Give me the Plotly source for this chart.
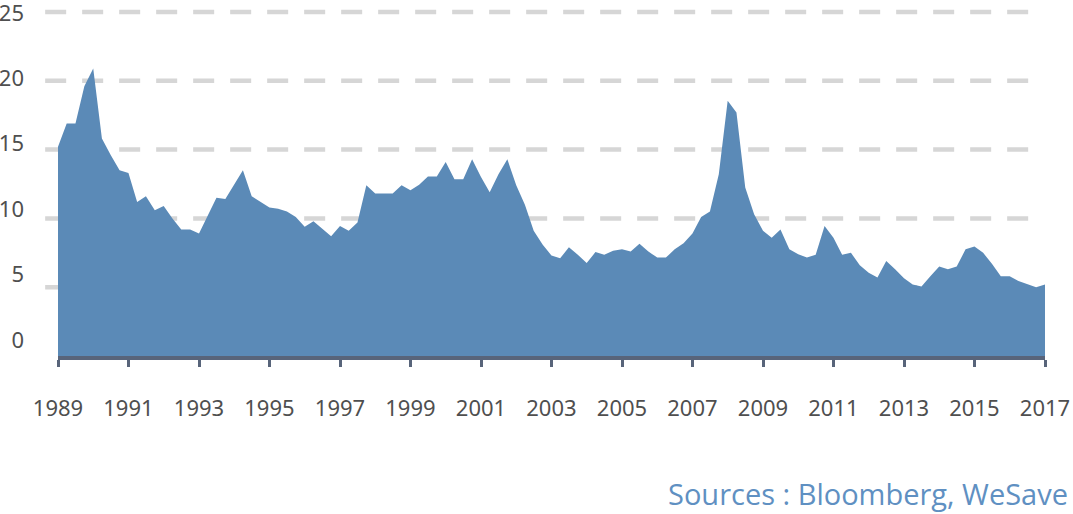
import pandas as pd
import plotly.graph_objects as go

# quarterly series, 1989 Q1 -> 2017 Q1
start_date = "1989-01-01"
values = [
    15.2, 16.9, 16.9, 19.6, 20.9, 15.8, 14.6, 13.5, 13.3, 11.2,
    11.6, 10.6, 10.9, 10.0, 9.2, 9.2, 8.9, 10.2, 11.5, 11.4,
    12.5, 13.5, 11.6, 11.2, 10.8, 10.7, 10.5, 10.1, 9.4, 9.8,
    9.25, 8.7, 9.45, 9.1, 9.7, 12.4, 11.8, 11.8, 11.8, 12.4,
    12.05, 12.45, 13.05, 13.05, 14.1, 12.85, 12.85, 14.3, 13.0, 11.9,
    13.2, 14.3, 12.4, 11.0, 9.1, 8.1, 7.3, 7.1, 7.9, 7.35,
    6.75, 7.55, 7.35, 7.65, 7.75, 7.6, 8.15, 7.6, 7.15, 7.15,
    7.75, 8.2, 8.9, 10.1, 10.5, 13.2, 18.55, 17.7, 12.25, 10.3,
    9.1, 8.6, 9.2, 7.75, 7.4, 7.15, 7.35, 9.45, 8.6, 7.35,
    7.5, 6.6, 6.05, 5.7, 6.9, 6.3, 5.65, 5.2, 5.05, 5.8,
    6.5, 6.3, 6.5, 7.75, 7.95, 7.5, 6.7, 5.8, 5.8, 5.45,
    5.25, 5.0, 5.2,
]
dates = pd.date_range(start_date, periods=len(values), freq="QS")

year_ticks = list(range(1989, 2018, 2))
y_ticks = [0, 5, 10, 15, 20, 25]
grid_levels = [5, 10, 15, 20, 25]
source_text = "Sources : Bloomberg, WeSave"

fill_color = "#5b8ab7"
axis_color = "#58647a"
label_color = "#4f4f4f"

fig = go.Figure()

fig.add_trace(go.Scatter(
    x=dates,
    y=values,
    mode="lines",
    line=dict(width=0, color=fill_color),
    fill="tozeroy",
    fillcolor=fill_color,
    hoverinfo="x+y",
))

# invisible trace so the label axis gets drawn
fig.add_trace(go.Scatter(x=[dates[0]], y=[0], yaxis="y2", mode="markers",
                         marker=dict(opacity=0), hoverinfo="skip"))

# dashed grid, drawn a bit wider than the plot area like the original
for lvl in grid_levels:
    fig.add_shape(type="line", xref="paper", yref="y",
                  x0=-0.013, x1=0.99, y0=lvl, y1=lvl,
                  line=dict(color="#d6d6d6", width=4.5, dash="21px,16px"),
                  layer="below")

fig.update_layout(
    width=1073,
    height=514,
    margin=dict(l=58, r=28, t=0, b=158, autoexpand=False),
    paper_bgcolor="white",
    plot_bgcolor="white",
    showlegend=False,
    font=dict(family="Noto Sans", color=label_color, size=22),
    xaxis=dict(
        type="date",
        automargin=False,
        range=[dates[0], dates[-1]],
        tickvals=[pd.Timestamp(f"{y}-01-01") for y in year_ticks],
        ticktext=[str(y) for y in year_ticks],
        showgrid=False,
        zeroline=False,
        showline=True,
        linecolor=axis_color,
        linewidth=4,
        ticks="outside",
        ticklen=7,
        tickwidth=3,
        tickcolor=axis_color,
        ticklabelstandoff=23,
        tickfont=dict(size=22, color=label_color),
    ),
    yaxis=dict(
        automargin=False,
        range=[0, 25.87],
        showgrid=False,
        zeroline=False,
        showticklabels=False,
        fixedrange=True,
    ),
    # label axis: the original's labels sit slightly off the grid lines
    yaxis2=dict(
        automargin=False,
        overlaying="y",
        side="left",
        range=[-1.22, 25.99],
        tickvals=y_ticks,
        ticktext=[str(v) for v in y_ticks],
        showgrid=False,
        zeroline=False,
        showline=False,
        ticklabelstandoff=33,
        ticklabeloverflow="allow",
        tickfont=dict(size=22, color=label_color),
    ),
)

fig.add_annotation(
    text=source_text,
    xref="paper", yref="paper",
    x=1.025, y=-0.385,
    xanchor="right", yanchor="middle",
    showarrow=False,
    font=dict(family="Open Sans", size=29, color="#5f90c2"),
)

# the page's default body margin would shift the whole figure by 8px
fig.write_html("out.html", config={"displayModeBar": False},
               post_script="document.body.style.margin='0';")
